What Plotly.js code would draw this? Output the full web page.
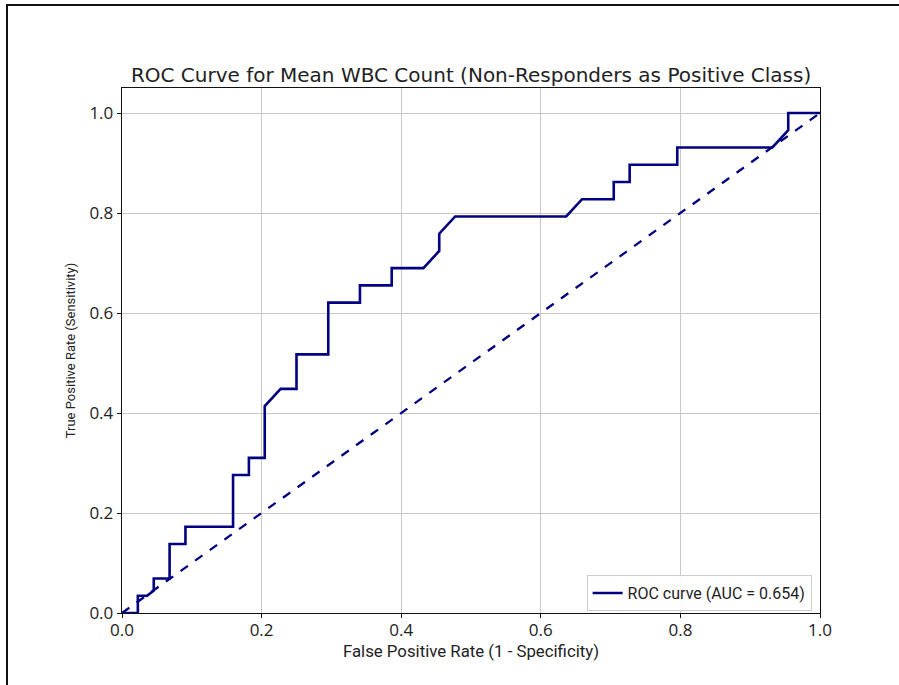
<!DOCTYPE html>
<html>
<head>
<meta charset="utf-8">
<script src="https://cdn.plot.ly/plotly-3.0.1.min.js"></script>
<style>
html,body{margin:0;padding:0;background:#fff;}
#wrap{position:relative;width:899px;height:685px;}
#chart{position:absolute;left:0;top:0;width:899px;height:685px;}
#frame{position:absolute;left:6px;top:4px;width:893px;height:681px;border-top:2px solid #111;border-left:2px solid #111;box-sizing:border-box;pointer-events:none;}
</style>
</head>
<body>
<div id="wrap"><div id="chart"></div><div id="frame"></div></div>
<script>
// ROC curve points (FPR, TPR)
const fpr = [0, 0.0227, 0.0227, 0.036, 0.0455, 0.0455, 0.0682, 0.0682, 0.0909, 0.0909,
  0.1591, 0.1591, 0.1818, 0.1818, 0.2045, 0.2045, 0.2273, 0.25, 0.25, 0.2955,
  0.2955, 0.3409, 0.3409, 0.3864, 0.3864, 0.4318, 0.4545, 0.4545, 0.4773, 0.6364,
  0.6591, 0.7045, 0.7045, 0.7273, 0.7273, 0.7955, 0.7955, 0.9318, 0.9545, 0.9545, 1.0];
const tpr = [0, 0, 0.0345, 0.0345, 0.045, 0.069, 0.069, 0.138, 0.138, 0.1724,
  0.1724, 0.2759, 0.2759, 0.3103, 0.3103, 0.4138, 0.4483, 0.4483, 0.5172, 0.5172,
  0.6207, 0.6207, 0.6552, 0.6552, 0.6897, 0.6897, 0.7241, 0.7586, 0.7931, 0.7931,
  0.8276, 0.8276, 0.8621, 0.8621, 0.8966, 0.8966, 0.931, 0.931, 0.9655, 1.0, 1.0];
const chanceX = [0, 1];
const chanceY = [0, 1];
const aucLabel = "ROC curve (AUC = 0.654)";
const xTicks = [0, 0.2, 0.4, 0.6, 0.8, 1.0];
const yTicks = [0, 0.2, 0.4, 0.6, 0.8, 1.0];
const xTickText = ["0.0", "0.2", "0.4", "0.6", "0.8", "1.0"];
const yTickText = ["0.0", "0.2", "0.4", "0.6", "0.8", "1.0"];

const navy = "#000080";
const traces = [
  {x: fpr, y: tpr, mode: "lines", name: aucLabel, line: {color: navy, width: 2.6}, cliponaxis: false},
  {x: chanceX, y: chanceY, mode: "lines", showlegend: false, line: {color: navy, width: 2.3, dash: "dash"}}
];
const tickFont = {family: "Open Sans, Lato, sans-serif", size: 17, color: "#222"};
const sans = "Roboto, sans-serif";
const layout = {
  width: 899, height: 685,
  margin: {l: 122, r: 79, t: 88, b: 72},
  paper_bgcolor: "#fff", plot_bgcolor: "#fff",
  title: {text: "ROC Curve for Mean WBC Count (Non-Responders as Positive Class)",
    font: {family: "DejaVu Sans, sans-serif", size: 20, color: "#222"},
    x: 0.524, xanchor: "center", xref: "container", y: 0.88, yanchor: "bottom", yref: "container"},
  xaxis: {range: [0, 1], tickvals: xTicks, ticktext: xTickText, showgrid: true, gridcolor: "#c8c8c8", gridwidth: 1,
    zeroline: false, showline: true, linecolor: "#111", linewidth: 1.3, mirror: true,
    ticks: "outside", ticklen: 4, tickcolor: "#111", tickfont: tickFont, ticklabelstandoff: -3,
    title: {text: "False Positive Rate (1 - Specificity)", font: {family: sans, size: 16.8, color: "#222"}, standoff: 0}},
  yaxis: {range: [0, 1.05], tickvals: yTicks, ticktext: yTickText, showgrid: true, gridcolor: "#c8c8c8", gridwidth: 1,
    zeroline: false, showline: true, linecolor: "#111", linewidth: 1.3, mirror: true,
    ticks: "outside", ticklen: 4, tickcolor: "#111", tickfont: tickFont,
    title: {text: "True Positive Rate (Sensitivity)", font: {family: sans, size: 13, color: "#222"}, standoff: 10}},
  legend: {x: 0.988, xanchor: "right", y: 0.038, yanchor: "middle", bgcolor: "rgba(255,255,255,0.9)",
    bordercolor: "#cccccc", borderwidth: 1, font: {family: sans, size: 16, color: "#222"}},
  showlegend: true
};
Plotly.newPlot("chart", traces, layout, {displayModeBar: false, staticPlot: true});
</script>
</body>
</html>
